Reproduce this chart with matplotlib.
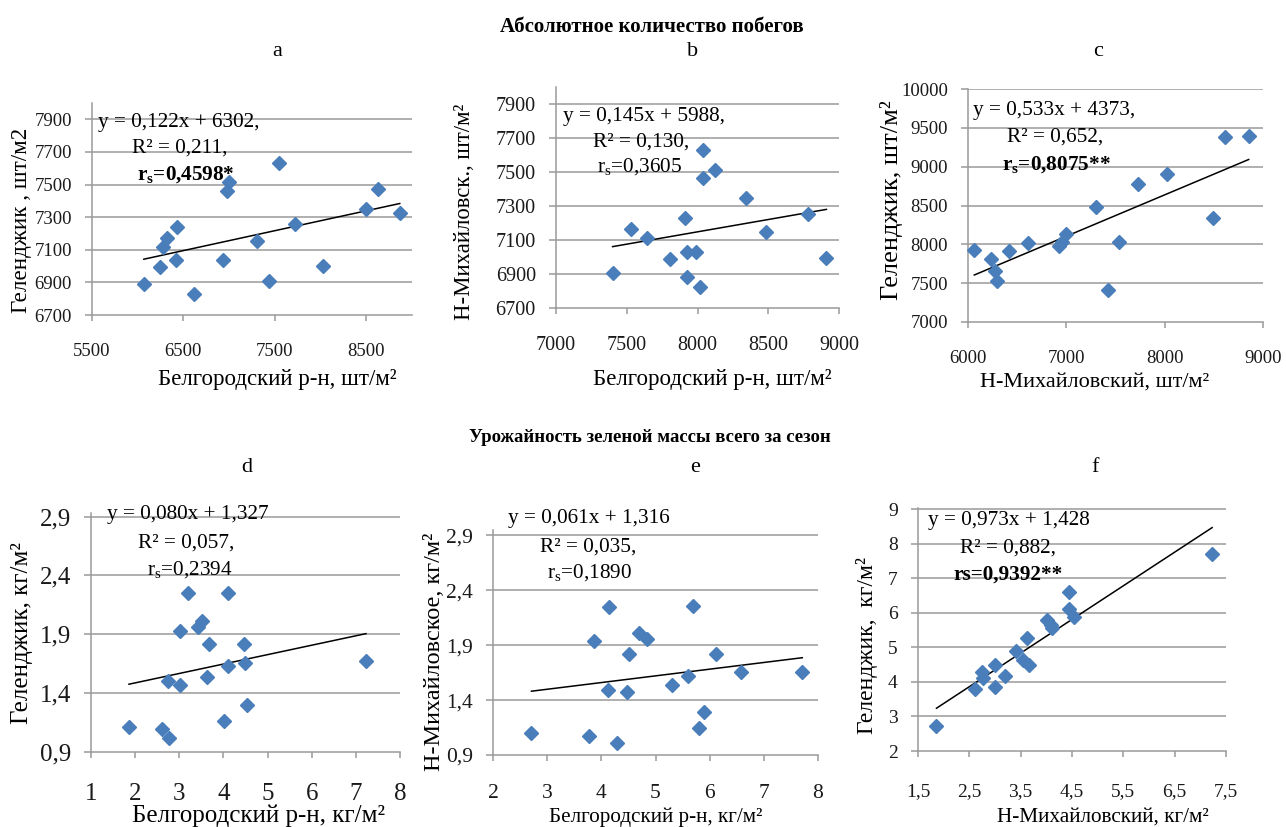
import numpy as np
import matplotlib
matplotlib.use('Agg')
import matplotlib.pyplot as plt

plt.rcParams['font.family'] = ['Liberation Serif', 'DejaVu Serif']
plt.rcParams['mathtext.fontset'] = 'custom'
plt.rcParams['mathtext.rm'] = 'Liberation Serif'
plt.rcParams['mathtext.it'] = 'Liberation Serif:italic'
plt.rcParams['mathtext.bf'] = 'Liberation Serif:bold'

W, H = 1286, 827

# ---- data ----
# a: Белгородский (x) vs Геленджик (y), shoots
a_x = [6067, 6243, 6279, 6316, 6426, 6415, 6616, 6934, 6975, 7000, 7304, 7542, 7439, 7725, 8025, 8500, 8628, 8866]
a_y = [6889, 6995, 7117, 7174, 7239, 7040, 6828, 7040, 7463, 7514, 7153, 7631, 6909, 7259, 6999, 7351, 7473, 7324]
# b: Белгородский (x) vs Н-Михайловск (y)
b_x = [7400, 7529, 7640, 7809, 7911, 7927, 7986, 7927, 8016, 8040, 8040, 8125, 8341, 8482, 8781, 8911]
b_y = [6905, 7164, 7110, 6987, 7227, 7028, 7028, 6882, 6822, 7463, 7629, 7512, 7346, 7147, 7253, 6995]
# c: Н-Михайловский (x) vs Геленджик (y)
c_x = [6064, 6237, 6271, 6294, 6413, 6609, 6927, 6961, 6994, 7302, 7427, 7539, 7725, 8019, 8492, 8617, 8854]
c_y = [7930, 7806, 7651, 7527, 7913, 8016, 7973, 8029, 8136, 8479, 7407, 8036, 8779, 8907, 8343, 9387, 9400]
# d: Белгородский (x) vs Геленджик (y), green mass
d_x = [1.86, 2.60, 2.77, 2.75, 3.01, 3.01, 3.20, 3.42, 3.51, 3.67, 3.63, 4.01, 4.11, 4.11, 4.46, 4.48, 4.54, 7.23]
d_y = [1.11, 1.095, 1.02, 1.50, 1.47, 1.93, 2.25, 1.96, 2.01, 1.82, 1.54, 1.16, 2.25, 1.63, 1.82, 1.66, 1.30, 1.67]
# e: Белгородский (x) vs Н-Михайловское (y)
e_x = [2.71, 3.78, 4.29, 3.86, 4.15, 4.12, 4.47, 4.51, 4.70, 4.84, 5.30, 5.60, 5.69, 5.80, 5.90, 6.12, 6.58, 7.71]
e_y = [1.10, 1.07, 1.01, 1.94, 2.25, 1.49, 1.47, 1.82, 2.01, 1.96, 1.54, 1.62, 2.26, 1.15, 1.29, 1.82, 1.66, 1.66]
# f: Н-Михайловский (x) vs Геленджик (y)
f_x = [1.86, 2.61, 2.75, 2.77, 3.00, 3.00, 3.20, 3.41, 3.54, 3.63, 3.67, 4.02, 4.10, 4.12, 4.45, 4.45, 4.54, 7.23]
f_y = [2.71, 3.78, 4.28, 4.12, 4.48, 3.86, 4.17, 4.88, 4.64, 5.28, 4.50, 5.80, 5.65, 5.57, 6.11, 6.60, 5.88, 7.70]

slopes = [0.122, 0.145, 0.533, 0.080, 0.061, 0.973]
intercepts = [6302, 5988, 4373, 1.327, 1.316, 1.428]

letters = ['a', 'b', 'c', 'd', 'e', 'f']
eq_lines = [
    ['y = 0,122x + 6302,', 'R² = 0,211,', r'r$_\mathbf{s}$=0,4598*'],
    ['y = 0,145x + 5988,', 'R² = 0,130,', r'r$_\mathrm{s}$=0,3605'],
    ['y = 0,533x + 4373,', 'R² = 0,652,', r'r$_\mathbf{s}$=0,8075**'],
    ['y = 0,080x + 1,327', 'R² = 0,057,', r'r$_\mathrm{s}$=0,2394'],
    ['y = 0,061x + 1,316', 'R² = 0,035,', r'r$_\mathrm{s}$=0,1890'],
    ['y = 0,973x + 1,428', 'R² = 0,882,', 'rs=0,9392**'],
]
rs_bold = [True, False, True, False, False, True]

xlabels = ['Белгородский р-н, шт/м²', 'Белгородский р-н, шт/м²', 'Н-Михайловский, шт/м²',
           'Белгородский р-н, кг/м²', 'Белгородский р-н, кг/м²', 'Н-Михайловский, кг/м²']
ylabels = ['Геленджик , шт/м2', 'Н-Михайловск., шт/м²', 'Геленджик, шт/м²',
           'Геленджик, кг/м²', 'Н-Михайловское, кг/м²', 'Геленджик,  кг/м²']

xlims = [(5500, 9000), (7000, 9000), (6000, 9000), (1, 8), (2, 8), (1.5, 7.5)]
ylims = [(6700, 8000), (6700, 8000), (7000, 10000), (0.9, 2.93), (0.9, 2.95), (2, 9.03)]
xticks = [[5500, 6500, 7500, 8500], [7000, 7500, 8000, 8500, 9000], [6000, 7000, 8000, 9000],
          [1, 2, 3, 4, 5, 6, 7, 8], [2, 3, 4, 5, 6, 7, 8], [1.5, 2.5, 3.5, 4.5, 5.5, 6.5, 7.5]]
yticks = [[6700, 6900, 7100, 7300, 7500, 7700, 7900], [6700, 6900, 7100, 7300, 7500, 7700, 7900],
          [7000, 7500, 8000, 8500, 9000, 9500, 10000], [0.9, 1.4, 1.9, 2.4, 2.9],
          [0.9, 1.4, 1.9, 2.4, 2.9], [2, 3, 4, 5, 6, 7, 8, 9]]

title_top = 'Абсолютное количество побегов'
title_bottom = 'Урожайность зеленой массы всего за сезон'

# ---- layout (pixels) and per-panel font sizes ----
boxes = [(92, 103, 412, 315), (556, 87, 839, 308), (968, 89, 1263, 322),
         (91, 513, 400, 752), (493, 530, 818, 755), (918, 508, 1226, 751)]
tick_fs = [13.5, 14.5, 13.5, 18, 15.5, 14]
xpads = [16, 16.5, 16.5, 18.5, 17, 19]
xlab_fs = [16.5, 16.5, 16, 18, 15.2, 15.3]
ylab_fs = [16.6, 16.4, 19, 18, 17.5, 17]
eq_fs = 15.3
letter_pos = [(277, 52), (693, 52), (1098, 52), (247, 468), (695, 468), (1095, 468)]
eq_pos = [[(98, 122), (132, 148), (137, 175)],
          [(563, 117), (593, 142), (597, 167)],
          [(973, 110), (1007, 137), (1002, 165)],
          [(107, 515), (138, 543), (147, 570)],
          [(508, 518), (540, 547), (547, 573)],
          [(928, 521), (960, 548), (953, 575)]]
xlab_pos = [(277, 380), (712, 380), (1095, 382), (259, 816), (656, 817), (1103, 817)]
ylab_pos = [(22, 220), (465, 212), (892, 200), (22, 633), (435, 652), (867, 645)]


def fx(x):
    return x / W


def fy(y):
    return 1 - y / H


def fmt(v):
    return ('%g' % v).replace('.', ',')


fig = plt.figure(figsize=(W / 100, H / 100), dpi=100)

xs = [a_x, b_x, c_x, d_x, e_x, f_x]
ys = [a_y, b_y, c_y, d_y, e_y, f_y]
grey = '#9a9a9a'

for i in range(6):
    x0, y0, x1, y1 = boxes[i]
    ax = fig.add_axes([fx(x0), fy(y1), (x1 - x0) / W, (y1 - y0) / H])
    ax.set_xlim(*xlims[i])
    ax.set_ylim(*ylims[i])
    ax.set_xticks(xticks[i])
    ax.set_xticklabels([fmt(v) for v in xticks[i]])
    ax.set_yticks(yticks[i])
    ax.set_yticklabels([fmt(v) for v in yticks[i]])
    for t in yticks[i][1:]:
        ax.axhline(t, color=grey, lw=1.1, zorder=1)
    for s in ['top', 'right']:
        ax.spines[s].set_visible(False)
    for s in ['left', 'bottom']:
        ax.spines[s].set_color(grey)
        ax.spines[s].set_linewidth(1.1)
    ax.tick_params(axis='x', colors=grey, labelcolor='#1a1a1a', labelsize=tick_fs[i],
                   length=4, pad=xpads[i], width=1.1)
    ax.tick_params(axis='y', colors=grey, labelcolor='#1a1a1a', labelsize=tick_fs[i],
                   length=5, pad=9.5, width=1.1)

    # trend line over data range
    lx = np.array([min(xs[i]), max(xs[i])])
    ax.plot(lx, slopes[i] * lx + intercepts[i], color='black', lw=1.1, zorder=2)
    ax.plot(xs[i], ys[i], 'D', color='#4a7ebb', markersize=7, zorder=3, clip_on=False)

    fig.text(fx(letter_pos[i][0]), fy(letter_pos[i][1]), letters[i], fontsize=16, ha='center', va='center')
    for j, line in enumerate(eq_lines[i]):
        bold = (j == 2 and rs_bold[i])
        fig.text(fx(eq_pos[i][j][0]), fy(eq_pos[i][j][1]), line, fontsize=eq_fs,
                 fontweight='bold' if bold else 'normal', ha='left', va='center')
    fig.text(fx(xlab_pos[i][0]), fy(xlab_pos[i][1]), xlabels[i], fontsize=xlab_fs[i],
             ha='center', va='center')
    fig.text(fx(ylab_pos[i][0]), fy(ylab_pos[i][1]), ylabels[i], fontsize=ylab_fs[i],
             ha='center', va='center', rotation=90)

fig.text(fx(652), fy(27), title_top, fontsize=15, fontweight='bold', ha='center', va='center')
fig.text(fx(650), fy(438), title_bottom, fontsize=13.5, fontweight='bold', ha='center', va='center')

fig.savefig('out.png', dpi=100)
